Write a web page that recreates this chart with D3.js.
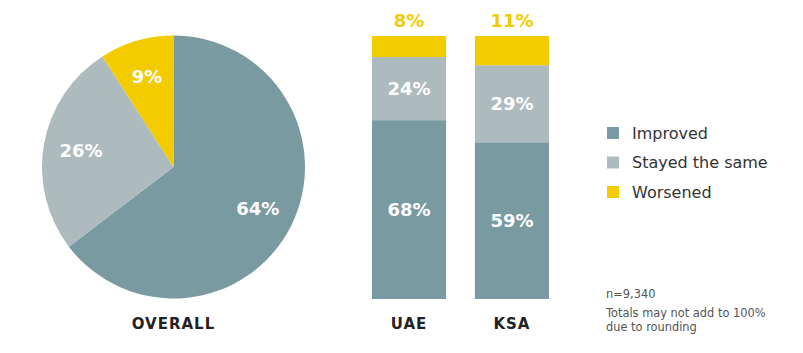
<!DOCTYPE html>
<html><head><meta charset="utf-8">
<script src="https://cdn.jsdelivr.net/npm/d3@7/dist/d3.min.js"></script>
<style>body{margin:0;background:#fff}</style>
</head><body>
<svg id="c" width="803" height="353"></svg>
<script>
const categories = ["Improved", "Stayed the same", "Worsened"];
const overall = [64, 26, 9];
const groups = ["UAE", "KSA"];
const uae = [68, 24, 8];
const ksa = [59, 29, 11];
const notes = ["n=9,340", "Totals may not add to 100%", "due to rounding"];

const colors = d3.scaleOrdinal().domain(categories).range(["#7a9aa2", "#adbabe", "#f3cc00"]);
const svg = d3.select("#c");
const boldFont = "'DejaVu Sans', sans-serif";
const regFont = "'DejaVu Sans', sans-serif";

// Pie
const cx = 173.5, cy = 167, R = 131.5;
const pie = d3.pie().sort(null).value(d => d);
const arcs = pie(overall);
const arc = d3.arc().innerRadius(0).outerRadius(R);
const labelArc = d3.arc().innerRadius(188).outerRadius(188);
const gp = svg.append("g").attr("transform", `translate(${cx},${cy})`);
gp.selectAll("path").data(arcs).join("path")
  .attr("d", arc).attr("fill", (d, i) => colors(categories[i]));
gp.selectAll("text").data(arcs).join("text")
  .attr("transform", d => { const c = labelArc.centroid(d); return `translate(${c[0] / 2},${c[1] / 2})`; })
  .attr("text-anchor", "middle").attr("dy", "0.35em")
  .attr("fill", "#fff").attr("font-family", boldFont).attr("font-weight", "bold")
  .attr("font-size", 18).text(d => d.data + "%");
svg.append("text").attr("x", cx).attr("y", 329).attr("text-anchor", "middle")
  .attr("font-family", boldFont).attr("font-weight", "bold").attr("font-size", 15)
  .attr("fill", "#222").attr("letter-spacing", 1).text("OVERALL");

// Bars
const x = d3.scaleBand().domain(groups).range([372, 549]).paddingInner(0.28);
const barData = {UAE: uae, KSA: ksa};
groups.forEach(g => {
  const vals = barData[g];
  const total = d3.sum(vals);
  const y = d3.scaleLinear().domain([0, total]).range([299, 36]);
  const stack = d3.stack().keys(categories)([Object.fromEntries(categories.map((c, i) => [c, vals[i]]))]);
  const gb = svg.append("g");
  stack.forEach((s, i) => {
    const seg = s[0];
    gb.append("rect").attr("x", x(g)).attr("width", x.bandwidth())
      .attr("y", y(seg[1])).attr("height", y(seg[0]) - y(seg[1]))
      .attr("fill", colors(categories[i]));
    const isTop = i === categories.length - 1;
    gb.append("text").attr("x", x(g) + x.bandwidth() / 2)
      .attr("y", isTop ? y(seg[1]) - 9 : (y(seg[0]) + y(seg[1])) / 2)
      .attr("dy", isTop ? 0 : "0.35em")
      .attr("text-anchor", "middle").attr("font-family", boldFont).attr("font-weight", "bold")
      .attr("font-size", 18).attr("fill", isTop ? "#f3cc00" : "#fff")
      .text(vals[i] + "%");
  });
  svg.append("text").attr("x", x(g) + x.bandwidth() / 2).attr("y", 329)
    .attr("text-anchor", "middle").attr("font-family", boldFont).attr("font-weight", "bold")
    .attr("font-size", 15).attr("fill", "#222").attr("letter-spacing", 1).text(g);
});

// Legend
const lg = svg.append("g").attr("transform", "translate(607,133)");
categories.forEach((c, i) => {
  const row = lg.append("g").attr("transform", `translate(0,${i * 29.5})`);
  row.append("rect").attr("x", 0).attr("y", -6).attr("width", 12).attr("height", 12).attr("fill", colors(c));
  row.append("text").attr("x", 25).attr("y", 0).attr("dy", "0.35em")
    .attr("font-family", regFont).attr("font-size", 16).attr("fill", "#333").text(c);
});

// Notes
const ny = [298, 317, 331];
notes.forEach((n, i) => {
  svg.append("text").attr("x", 606).attr("y", ny[i]).attr("font-family", regFont)
    .attr("font-size", 11.4).attr("fill", "#555").text(n);
});
</script>
</body></html>
